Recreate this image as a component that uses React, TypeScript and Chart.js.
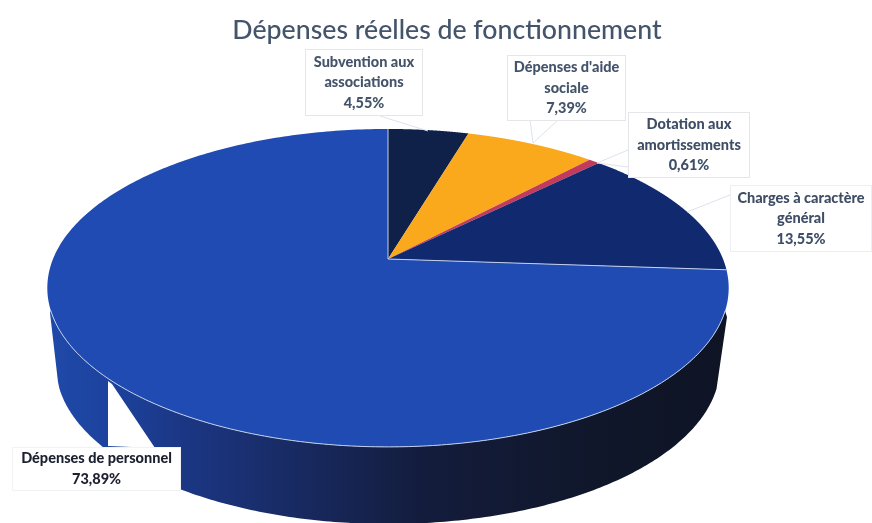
import React, { useEffect, useRef } from "react";
import { Chart, registerables } from "chart.js";

Chart.register(...registerables);

const titleText = "Dépenses réelles de fonctionnement";
const categories = [
  "Subvention aux associations",
  "Dépenses d'aide sociale",
  "Dotation aux amortissements",
  "Charges à caractère général",
  "Dépenses de personnel",
];
const values = [4.55, 7.39, 0.61, 13.55, 73.89];
const sliceColors = ["#0f2149", "#fba91c", "#c23a5c", "#11296f", "#1f4bb2"];
const labelLines = [
  ["Subvention aux", "associations", "4,55%"],
  ["Dépenses d'aide", "sociale", "7,39%"],
  ["Dotation aux", "amortissements", "0,61%"],
  ["Charges à caractère", "général", "13,55%"],
  ["Dépenses de personnel", "73,89%"],
];
const labelBoxes = [
  { x: 305, y: 49, w: 118, h: 67, c: "#44546a", border: "#e4e6ea" },
  { x: 507, y: 55, w: 119, h: 66, c: "#44546a", border: "#e4e6ea" },
  { x: 628, y: 112, w: 122, h: 66, c: "#3f4e66", border: "#e4e6ea" },
  { x: 730, y: 185, w: 142, h: 67, c: "#3f4e66", border: "#eceef1" },
  { x: 12, y: 447, w: 169, h: 44, c: "#1c2130", border: "#f1f2f4" },
];
const leaders = [
  [[380, 116], [428, 131]],
  [[557, 121], [533, 143], [530, 120]],
  [[628, 150], [597, 163], [628, 167]],
  [[730, 195], [687, 212]],
];

// Perspective of the tilted disc
const C = { x: 388, y: 259, X: 335, Y: 153.7, k: 0.182 };
const TOP = { x: 388, y: 288, rx: 341, ry: 159 };
const LOW = { x: 388, y: 366, rx: 332, ry: 158 };

function project(a: number) {
  const u = Math.cos(a);
  const v = Math.sin(a);
  const d = 1 - C.k * v;
  return { x: C.x + (C.X * u) / d, y: C.y + (C.Y * v) / d };
}
function lowerOf(p: { x: number; y: number }) {
  const phi = Math.atan2((p.y - TOP.y) / TOP.ry, (p.x - TOP.x) / TOP.rx);
  return {
    phi,
    x: LOW.x + LOW.rx * Math.cos(phi),
    y: LOW.y + LOW.ry * Math.sin(phi),
  };
}

const pie3d = {
  id: "pie3d",
  beforeDatasetDraw(chart: any) {
    const ctx = chart.ctx;
    const arcs = chart.getDatasetMeta(0).data;
    const lim = (8 * Math.PI) / 180;

    // side wall
    const wall = ctx.createLinearGradient(50, 0, 730, 0);
    wall.addColorStop(0, "#1f49a9");
    wall.addColorStop(0.1, "#1c419b");
    wall.addColorStop(0.2, "#1b3683");
    wall.addColorStop(0.36, "#182a62");
    wall.addColorStop(0.55, "#131c3c");
    wall.addColorStop(0.8, "#10172b");
    wall.addColorStop(1, "#0e1424");
    arcs.forEach((arc: any) => {
      const { startAngle, endAngle } = arc.getProps(["startAngle", "endAngle"], true);
      const rim: any[] = [];
      for (let i = 0; i <= 400; i++) {
        const a = startAngle + ((endAngle - startAngle) * i) / 400;
        const p = project(a);
        const q = lowerOf(p);
        if (q.phi > lim && q.phi < Math.PI - lim) rim.push({ p, q });
      }
      if (rim.length < 2) return;
      ctx.beginPath();
      rim.forEach((r, i) => (i ? ctx.lineTo(r.p.x, r.p.y) : ctx.moveTo(r.p.x, r.p.y)));
      ctx.lineTo(50, 313);
      ctx.lineTo(58, 382);
      for (let i = rim.length - 1; i >= 0; i--) ctx.lineTo(rim[i].q.x, rim[i].q.y);
      ctx.lineTo(727, 317);
      ctx.closePath();
      ctx.fillStyle = wall;
      ctx.fill();
    });

    // gap in the wall left of the label
    ctx.fillStyle = "#ffffff";
    ctx.beginPath();
    ctx.moveTo(108, 381);
    ctx.lineTo(108, 446);
    ctx.lineTo(155, 448);
    ctx.lineTo(112, 384);
    ctx.closePath();
    ctx.fill();

    // top face
    arcs.forEach((arc: any) => {
      const { startAngle, endAngle } = arc.getProps(["startAngle", "endAngle"], true);
      ctx.beginPath();
      ctx.moveTo(C.x, C.y);
      for (let i = 0; i <= 300; i++) {
        const p = project(startAngle + ((endAngle - startAngle) * i) / 300);
        ctx.lineTo(p.x, p.y);
      }
      ctx.closePath();
      ctx.fillStyle = arc.options.backgroundColor;
      ctx.fill();
    });

    // pale edges of the largest slice
    const big = arcs[arcs.length - 1].getProps(["startAngle", "endAngle"], true);
    ctx.strokeStyle = "#c3d0ea";
    ctx.lineWidth = 1;
    ctx.beginPath();
    const s = project(big.startAngle);
    const e = project(big.endAngle);
    ctx.moveTo(s.x, s.y);
    ctx.lineTo(C.x, C.y);
    ctx.lineTo(e.x, e.y);
    ctx.stroke();
    ctx.beginPath();
    let started = false;
    for (let i = 0; i <= 400; i++) {
      const p = project(big.startAngle + ((big.endAngle - big.startAngle) * i) / 400);
      const q = lowerOf(p);
      if (q.phi > lim && q.phi < Math.PI - lim) {
        if (started) ctx.lineTo(p.x, p.y);
        else ctx.moveTo(p.x, p.y);
        started = true;
      }
    }
    ctx.stroke();

    return false;
  },
  afterDatasetsDraw(chart: any) {
    const ctx = chart.ctx;
    ctx.strokeStyle = "#dde2ec";
    ctx.lineWidth = 1;
    leaders.forEach((pts) => {
      ctx.beginPath();
      pts.forEach((p, i) => (i ? ctx.lineTo(p[0], p[1]) : ctx.moveTo(p[0], p[1])));
      ctx.stroke();
    });
    labelBoxes.forEach((b, i) => {
      ctx.fillStyle = "#ffffff";
      ctx.fillRect(b.x, b.y, b.w, b.h);
      ctx.strokeStyle = b.border;
      ctx.strokeRect(b.x + 0.5, b.y + 0.5, b.w - 1, b.h - 1);
      ctx.fillStyle = b.c;
      ctx.font = "900 14.5px Lato";
      ctx.textAlign = "center";
      ctx.textBaseline = "middle";
      const lines = labelLines[i];
      const step = 20.5;
      const y0 = b.y + b.h / 2 - ((lines.length - 1) * step) / 2;
      lines.forEach((t, j) => ctx.fillText(t, b.x + b.w / 2, y0 + j * step));
    });
  },
};

export default function App() {
  const ref = useRef<HTMLCanvasElement>(null);
  useEffect(() => {
    const chart = new Chart(ref.current as HTMLCanvasElement, {
      type: "pie",
      data: {
        labels: categories,
        datasets: [{ data: values, backgroundColor: sliceColors, borderWidth: 0 }],
      },
      options: {
        animation: false,
        responsive: false,
        layout: { padding: { left: 22 } },
        plugins: {
          legend: { display: false },
          tooltip: { enabled: false },
          title: {
            display: true,
            text: titleText,
            color: "#44546a",
            font: { family: "Lato", size: 26.7, weight: "500" },
            padding: { top: 14, bottom: 0 },
          },
        },
      },
      plugins: [pie3d],
    } as any);
    return () => chart.destroy();
  }, []);
  return (
    <div style={{ position: "absolute", left: 0, top: 0, background: "#fff" }}>
      <canvas ref={ref} width={872} height={523} style={{ display: "block" }} />
    </div>
  );
}
